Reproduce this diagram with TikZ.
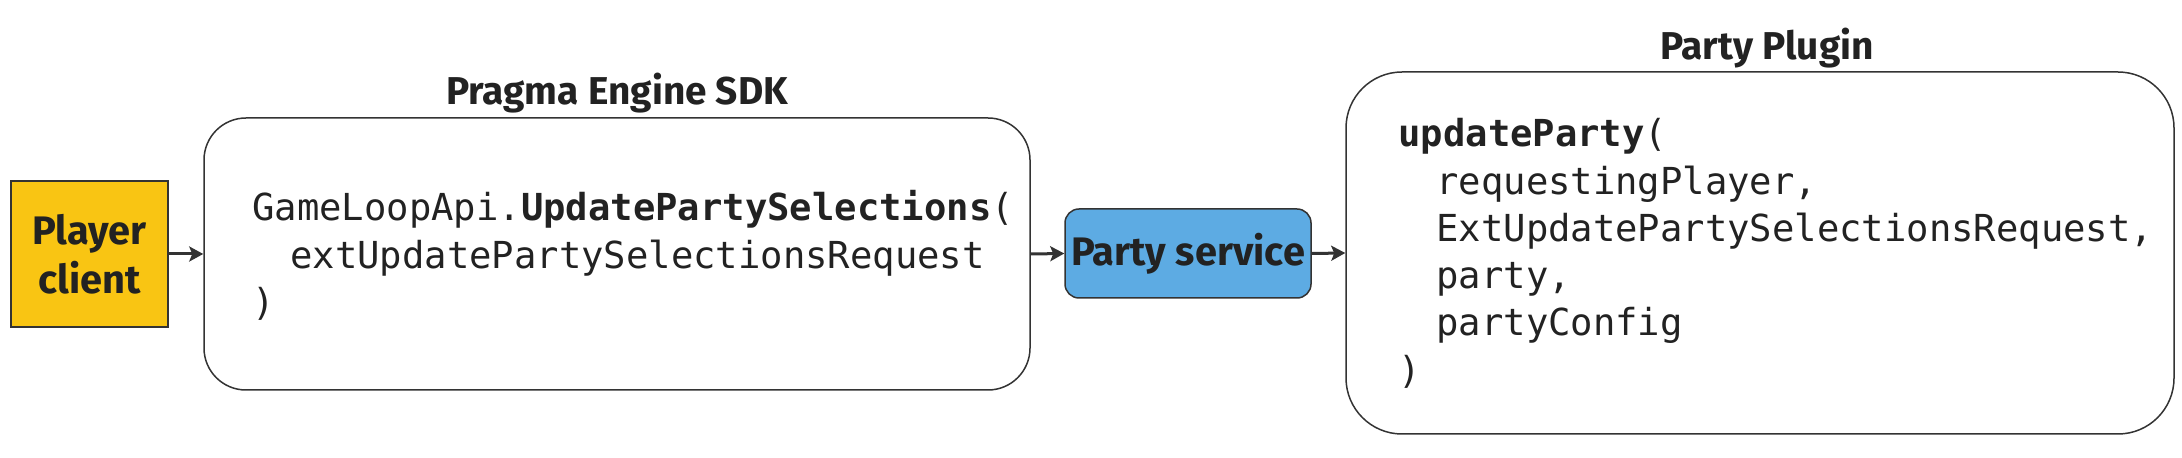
\documentclass[tikz,border=0pt]{standalone}
\usepackage{fontspec}
\setmainfont{Fira Sans}
\newfontfamily\codefont{DejaVu Sans Mono}
\usetikzlibrary{arrows.meta}
\definecolor{edgegray}{HTML}{333333}
\definecolor{inkgray}{HTML}{222222}
\definecolor{clientyellow}{HTML}{F9C513}
\definecolor{serviceblue}{HTML}{5DABE3}
\tikzset{
  boxline/.style={draw=edgegray, line width=0.75pt},
  labeltext/.style={font=\fontsize{19.9}{24.5}\selectfont\bfseries, text=inkgray, align=center},
  titletext/.style={font=\fontsize{19.4}{22}\selectfont\bfseries, text=inkgray, anchor=base, inner sep=0pt},
  codeline/.style={font=\codefont\fontsize{18.6}{24}\selectfont, text=inkgray, anchor=base west, inner sep=0pt},
  flow/.style={draw=edgegray, line width=1.5pt, -{Stealth[length=7pt,width=7.5pt,inset=1.5pt]}}
}
\begin{document}
\begin{tikzpicture}[x=0.5pt,y=-0.5pt]
\useasboundingbox (0,0) rectangle (2182,458);
% nodes
\node[boxline, line width=1pt, fill=clientyellow, minimum width=78.5pt, minimum height=73pt, inner sep=0pt, labeltext] (player) at (89.5,254) {Player\\client};
\node[boxline, rounded corners=21pt, minimum width=413pt, minimum height=136pt, inner sep=0pt] (sdk) at (617,254) {};
\node[boxline, fill=serviceblue, rounded corners=7pt, minimum width=123pt, minimum height=44.5pt, inner sep=0pt, labeltext] (service) at (1188,253.5) {Party service};
\node[boxline, rounded corners=28pt, minimum width=414pt, minimum height=181pt, inner sep=0pt] (plugin) at (1760,253) {};
% titles
\node[titletext] (sdktitle) at (617,105) {Pragma Engine SDK};
\node[titletext] (plugintitle) at (1767,60) {Party Plugin};
% SDK code
\node[codeline] (s1) at (252,221) {GameLoopApi.\textbf{UpdatePartySelections}(};
\node[codeline] (s2) at (290,269) {extUpdatePartySelectionsRequest};
\node[codeline] (s3) at (252,316) {)};
% plugin code
\node[codeline] (p1) at (1398,147) {\textbf{updateParty}(};
\node[codeline] (p2) at (1436,195) {requestingPlayer,};
\node[codeline] (p3) at (1436,242) {ExtUpdatePartySelectionsRequest,};
\node[codeline] (p4) at (1436,289) {party,};
\node[codeline] (p5) at (1436,336) {partyConfig};
\node[codeline] (p6) at (1398,384) {)};
% connectors
\draw[flow] (player.east) -- (sdk.west);
\draw[flow] (sdk.east) -- (service.west);
\draw[flow] (service.east) -- (plugin.west);
\end{tikzpicture}
\end{document}
